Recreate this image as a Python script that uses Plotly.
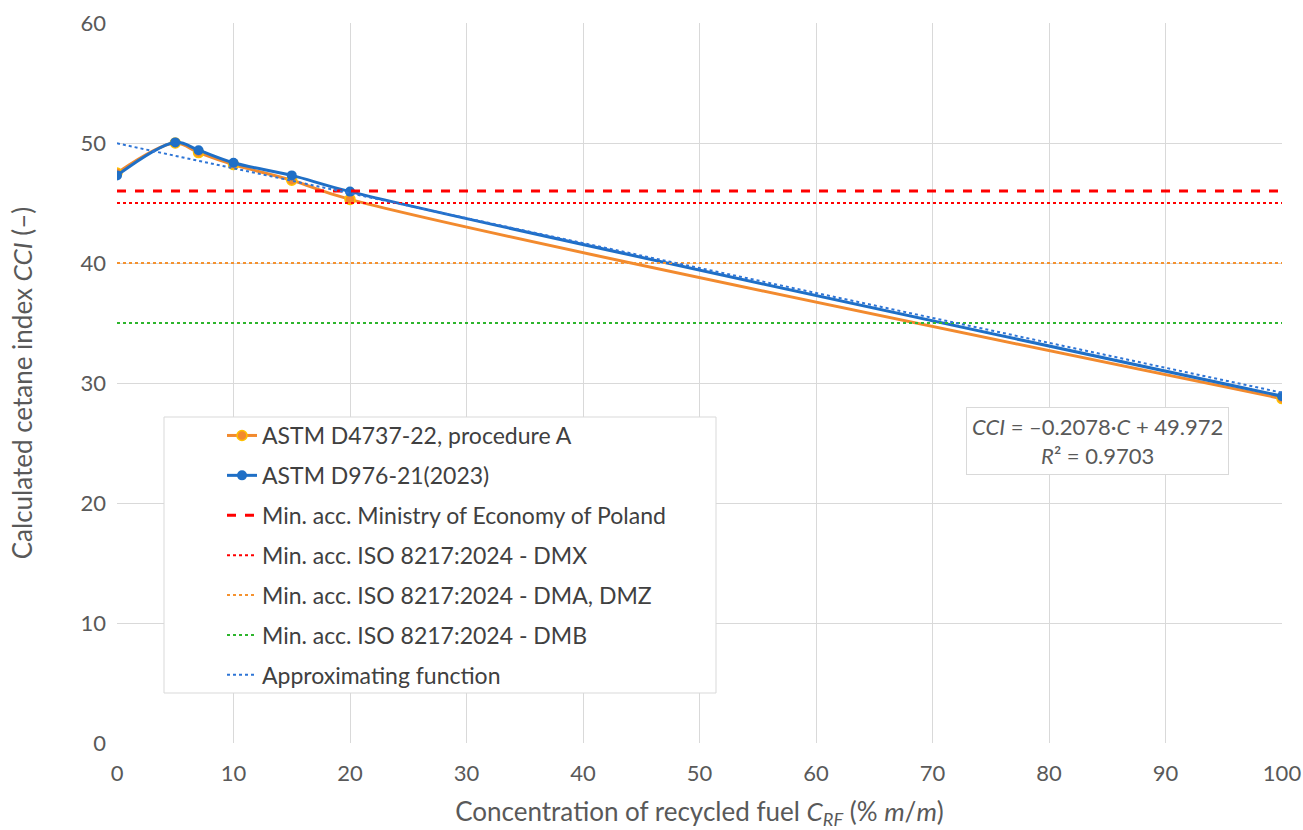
import plotly.graph_objects as go

# ---- data ----
conc = [0, 5, 7, 10, 15, 20, 100]
cci_d4737 = [47.5, 50.0, 49.2, 48.2, 46.9, 45.3, 28.7]
cci_d976 = [47.3, 50.05, 49.4, 48.35, 47.3, 45.95, 28.9]

limit_names = ["Min. acc. Ministry of Economy of Poland",
               "Min. acc. ISO 8217:2024 - DMX",
               "Min. acc. ISO 8217:2024 - DMA, DMZ",
               "Min. acc. ISO 8217:2024 - DMB"]
limit_values = [46, 45, 40, 35]
limit_colors = ["#FF0000", "#FF0000", "#F5922F", "#2DB52D"]
limit_dash = ["dash", "dot", "dot", "dot"]
limit_width = [3, 2, 2, 2]

trend_slope = -0.2078
trend_intercept = 49.972
trend_range = [0, 100]

x_ticks = list(range(0, 101, 10))
y_ticks = list(range(0, 61, 10))

FONT = "Lato"
TXT = "#595959"

fig = go.Figure()

fig.add_trace(go.Scatter(
    x=conc, y=cci_d4737, mode="lines+markers", name="ASTM D4737-22, procedure A",
    line=dict(color="#F28A2E", width=3, shape="spline", smoothing=1),
    marker=dict(size=10, color="#F28A2E", line=dict(color="#FFC000", width=1.5)),
    legendgroup="a", hoverinfo="skip"))
fig.add_trace(go.Scatter(
    x=conc, y=cci_d976, mode="lines+markers", name="ASTM D976-21(2023)",
    line=dict(color="#1F6FC6", width=3, shape="spline", smoothing=1),
    marker=dict(size=10, color="#1F6FC6"),
    legendgroup="b", hoverinfo="skip"))

for i, (nm, v, c, d, w) in enumerate(zip(limit_names, limit_values, limit_colors, limit_dash, limit_width)):
    fig.add_trace(go.Scatter(
        x=[x_ticks[0], x_ticks[-1]], y=[v, v], mode="lines", name=nm,
        line=dict(color=c, width=w, dash=d), legendgroup="l%d" % i, hoverinfo="skip"))

trend_y = [trend_slope * x + trend_intercept for x in trend_range]
fig.add_trace(go.Scatter(
    x=trend_range, y=trend_y, mode="lines", name="Approximating function",
    line=dict(color="#2E75D6", width=2, dash="dot"), legendgroup="t", hoverinfo="skip"))

# legend box
fig.add_shape(type="rect", xref="paper", yref="paper",
              x0=(164 - 117) / 1165, x1=(716 - 117) / 1165,
              y0=(743 - 693) / 720, y1=(743 - 417) / 720,
              fillcolor="white", line=dict(color="#D9D9D9", width=1), layer="above")

fig.add_annotation(
    x=84.2, y=25.2, xref="x", yref="y",
    text="<i>CCI</i> = \u20130.2078\u00b7<i>C</i> + 49.972<br><i>R</i>\u00b2 = 0.9703",
    showarrow=False, align="center", font=dict(family=FONT, size=22, color=TXT),
    bgcolor="white", bordercolor="#D9D9D9", borderwidth=1, borderpad=5)

fig.update_layout(
    width=1303, height=830,
    margin=dict(l=117, r=21, t=23, b=87, autoexpand=False),
    paper_bgcolor="white", plot_bgcolor="white",
    font=dict(family=FONT, size=22, color=TXT),
    showlegend=True,
    legend=dict(x=(222 - 117) / 1165, y=(743 - 414) / 720, xanchor="left", yanchor="top",
                bgcolor="rgba(0,0,0,0)", borderwidth=0, traceorder="grouped",
                tracegroupgap=7, font=dict(family=FONT, size=23, color="#404040")),
    xaxis=dict(range=[0, 100], tickvals=x_ticks, showgrid=True, gridcolor="#D9D9D9",
               gridwidth=1, zeroline=False, showline=False, ticks="", automargin=False,
               tickfont=dict(size=22, color=TXT), ticklabelstandoff=15,
               title=dict(text="Concentration of recycled fuel <i>C</i><sub><i>RF</i></sub> (% <i>m</i>/<i>m</i>)",
                          font=dict(size=26, color=TXT), standoff=20)),
    yaxis=dict(range=[0, 60], tickvals=y_ticks, showgrid=True, gridcolor="#D9D9D9",
               gridwidth=1, zeroline=False, showline=False, ticks="", automargin=False,
               tickfont=dict(size=22, color=TXT), ticklabelstandoff=10,
               title=dict(text="Calculated cetane index <i>CCI</i> (\u2013)",
                          font=dict(size=26, color=TXT), standoff=40)),
)

fig.write_html("out.html")
